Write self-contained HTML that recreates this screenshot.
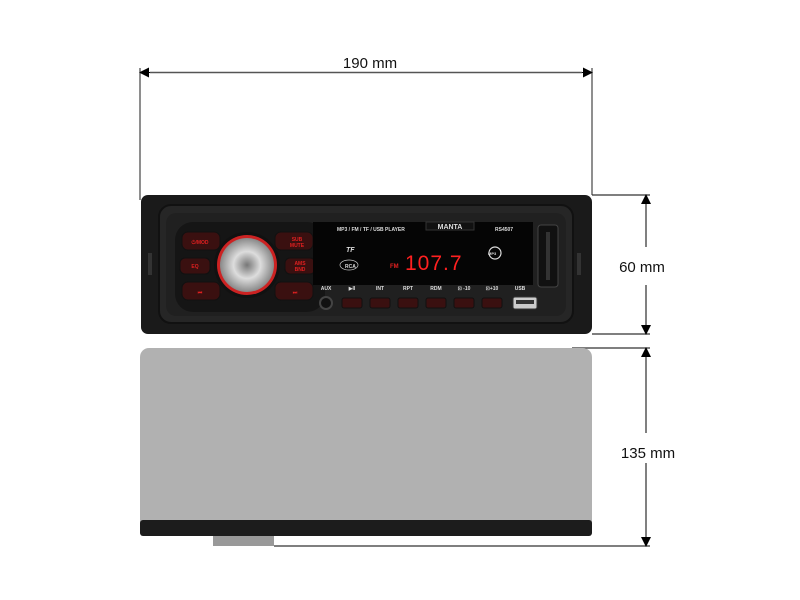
<!DOCTYPE html>
<html><head><meta charset="utf-8"><style>
html,body{margin:0;padding:0;background:#fff;width:800px;height:600px;overflow:hidden}
svg{display:block}
text{font-family:"Liberation Sans",sans-serif}
</style></head><body>
<svg width="800" height="600" viewBox="0 0 800 600" xmlns="http://www.w3.org/2000/svg">
<defs>
<marker id="a" markerWidth="10" markerHeight="10" refX="9" refY="5" orient="auto" markerUnits="userSpaceOnUse">
<path d="M0,0 L10,5 L0,10 z" fill="#000"/></marker>
<radialGradient id="knob" cx="50%" cy="50%" r="50%">
<stop offset="0" stop-color="#777"/><stop offset="0.5" stop-color="#ddd"/><stop offset="1" stop-color="#888"/></radialGradient>
</defs>
<!-- top dimension -->
<line x1="140" y1="68" x2="140" y2="200" stroke="#444" stroke-width="1.2"/>
<line x1="592" y1="68" x2="592" y2="195" stroke="#444" stroke-width="1.2"/>
<line x1="150" y1="72.5" x2="582" y2="72.5" stroke="#555" stroke-width="1.5"/>
<line x1="150" y1="72.5" x2="140" y2="72.5" stroke="#000" marker-end="url(#a)"/>
<line x1="582" y1="72.5" x2="592" y2="72.5" stroke="#000" marker-end="url(#a)"/>
<text x="370" y="68" font-size="15" text-anchor="middle" fill="#111">190 mm</text>
<!-- 60 mm -->
<line x1="592" y1="195" x2="650" y2="195" stroke="#333" stroke-width="1.2"/>
<line x1="592" y1="334" x2="650" y2="334" stroke="#333" stroke-width="1.2"/>
<line x1="646" y1="205" x2="646" y2="247" stroke="#555" stroke-width="1.5"/>
<line x1="646" y1="285" x2="646" y2="324" stroke="#555" stroke-width="1.5"/>
<line x1="646" y1="205" x2="646" y2="195" stroke="#000" marker-end="url(#a)"/>
<line x1="646" y1="324" x2="646" y2="334" stroke="#000" marker-end="url(#a)"/>
<text x="642" y="272" font-size="15" text-anchor="middle" fill="#111">60 mm</text>
<!-- 135 mm -->
<line x1="572" y1="348" x2="650" y2="348" stroke="#333" stroke-width="1.2"/>
<line x1="274" y1="546" x2="650" y2="546" stroke="#333" stroke-width="1.2"/>
<line x1="646" y1="358" x2="646" y2="433" stroke="#555" stroke-width="1.5"/>
<line x1="646" y1="463" x2="646" y2="536" stroke="#555" stroke-width="1.5"/>
<line x1="646" y1="358" x2="646" y2="348" stroke="#000" marker-end="url(#a)"/>
<line x1="646" y1="536" x2="646" y2="546" stroke="#000" marker-end="url(#a)"/>
<text x="648" y="458" font-size="15" text-anchor="middle" fill="#111">135 mm</text>
<!-- body -->
<rect x="140" y="348" width="452" height="186" rx="9" fill="#b1b1b1"/>
<rect x="140" y="520" width="452" height="16" rx="3" fill="#1c1c1c"/>
<rect x="213" y="536" width="61" height="10" fill="#999"/>
<!-- front panel -->
<rect x="141" y="195" width="451" height="139" rx="7" fill="#1a1a1a"/>
<rect x="148" y="253" width="4" height="22" fill="#333"/>
<rect x="577" y="253" width="4" height="22" fill="#333"/>
<rect x="159" y="205" width="414" height="118" rx="12" fill="#262626" stroke="#111" stroke-width="2"/>
<rect x="166" y="213" width="400" height="103" rx="10" fill="#202020"/>
<!-- left button cluster -->
<rect x="175" y="222" width="150" height="90" rx="18" fill="#151515"/>
<rect x="182" y="232" width="38" height="18" rx="6" fill="#3a1010" stroke="#111"/>
<rect x="180" y="258" width="30" height="16" rx="5" fill="#3a1010" stroke="#111"/>
<rect x="182" y="282" width="38" height="18" rx="6" fill="#3a1010" stroke="#111"/>
<rect x="275" y="232" width="38" height="18" rx="6" fill="#3a1010" stroke="#111"/>
<rect x="285" y="258" width="30" height="16" rx="5" fill="#3a1010" stroke="#111"/>
<rect x="275" y="282" width="38" height="18" rx="6" fill="#3a1010" stroke="#111"/>
<g font-size="5" fill="#e02020" text-anchor="middle" font-weight="bold">
<text x="200" y="244">⏻/MOD</text><text x="195" y="268">EQ</text><text x="200" y="294">⏮</text>
<text x="297" y="241">SUB</text><text x="297" y="247">MUTE</text><text x="300" y="265">AMS</text><text x="300" y="271">BND</text><text x="295" y="294">⏭</text>
</g>
<circle cx="247" cy="265" r="33" fill="#111"/>
<circle cx="247" cy="265" r="30" fill="#c22"/>
<circle cx="247" cy="265" r="27" fill="url(#knob)"/>
<!-- display -->
<rect x="313" y="222" width="220" height="63" fill="#050505"/>
<g font-size="5" fill="#ddd" font-weight="bold">
<text x="337" y="231">MP3 / FM / TF / USB PLAYER</text>
<text x="495" y="231">RS4507</text>
<text x="346" y="252" font-size="7" font-style="italic">TF</text>
<text x="345" y="268" font-size="5">RCA</text>
<text x="488" y="255" font-size="4">MP3</text>
</g>
<rect x="426" y="222" width="48" height="8" fill="#111" stroke="#333"/>
<text x="450" y="229" font-size="7" fill="#ddd" text-anchor="middle" font-weight="bold">MANTA</text>
<ellipse cx="349" cy="265" rx="9" ry="5" fill="none" stroke="#ccc" stroke-width="0.7"/>
<circle cx="495" cy="253" r="6" fill="none" stroke="#ddd" stroke-width="1.2"/>
<text x="390" y="268" font-size="6" fill="#e02020" font-weight="bold">FM</text>
<text x="405" y="270" font-size="21" fill="#ff2020" font-family="Liberation Mono" letter-spacing="1">107.7</text>
<rect x="538" y="225" width="20" height="62" rx="3" fill="#111" stroke="#444"/>
<rect x="546" y="232" width="4" height="48" fill="#333"/>
<!-- bottom labels and buttons -->
<g font-size="5" fill="#ddd" font-weight="bold" text-anchor="middle">
<text x="326" y="290">AUX</text><text x="352" y="290">▶II</text><text x="380" y="290">INT</text><text x="408" y="290">RPT</text>
<text x="436" y="290">RDM</text><text x="464" y="290">⊡ -10</text><text x="492" y="290">⊡+10</text><text x="520" y="290">USB</text>
</g>
<circle cx="326" cy="303" r="6" fill="#111" stroke="#444" stroke-width="2"/>
<g fill="#3a1010" stroke="#111">
<rect x="342" y="298" width="20" height="10" rx="2"/><rect x="370" y="298" width="20" height="10" rx="2"/><rect x="398" y="298" width="20" height="10" rx="2"/>
<rect x="426" y="298" width="20" height="10" rx="2"/><rect x="454" y="298" width="20" height="10" rx="2"/><rect x="482" y="298" width="20" height="10" rx="2"/>
</g>
<rect x="513" y="297" width="24" height="12" rx="2" fill="#ccc" stroke="#333"/>
<rect x="516" y="300" width="18" height="4" fill="#333"/>
</svg>
</body></html>
